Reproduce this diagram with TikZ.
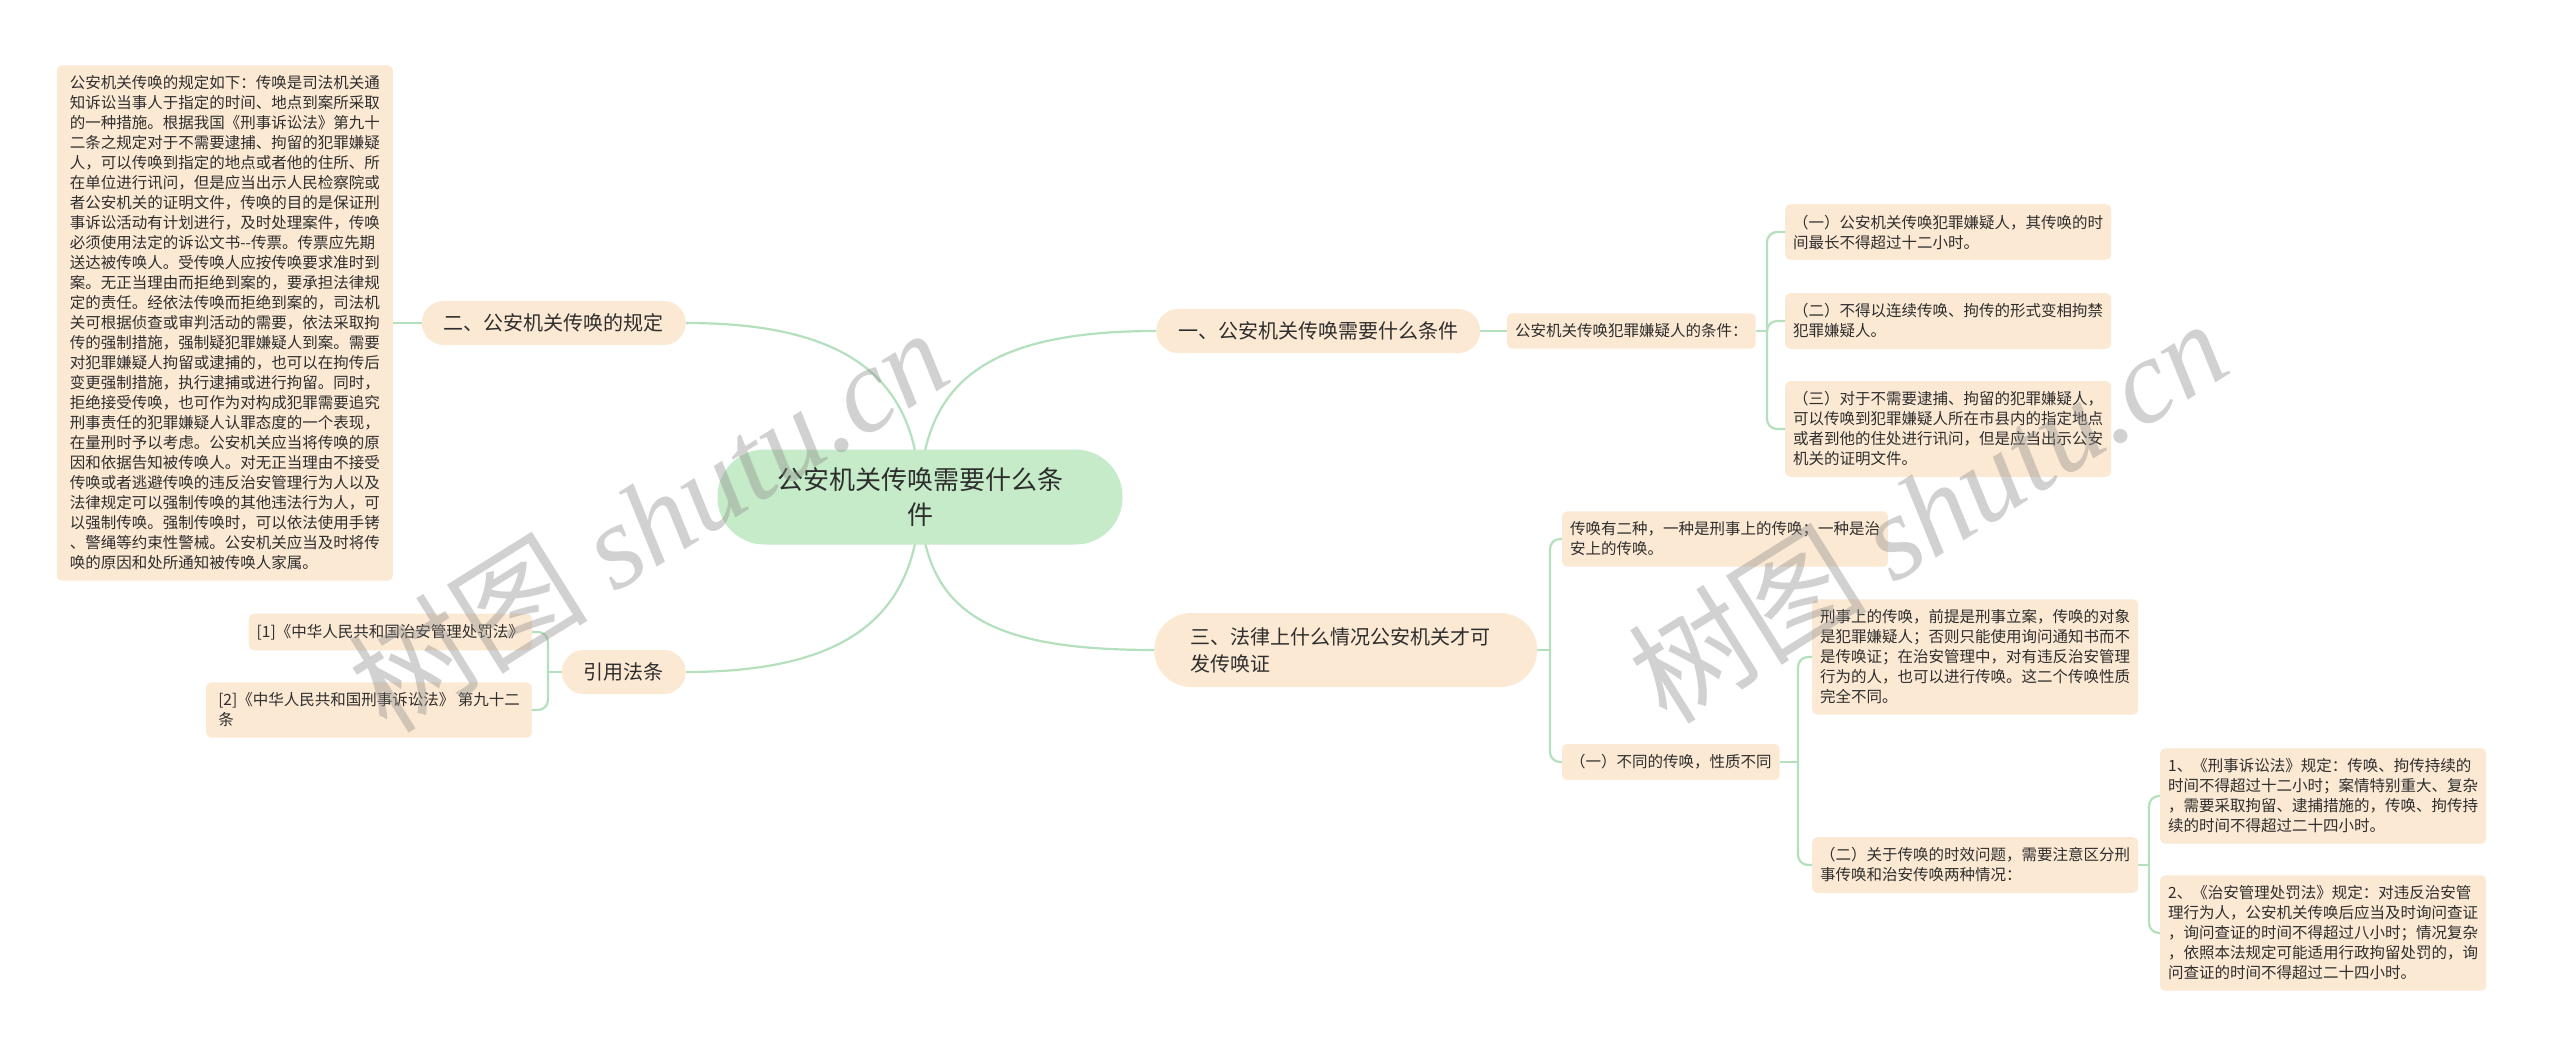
\documentclass[tikz,border=0pt]{standalone}
\usepackage{fontspec}
\setmainfont{Noto Sans CJK SC}
\newfontfamily\wmserif{Liberation Serif}
\usetikzlibrary{backgrounds,calc}
\definecolor{peach}{HTML}{FCE9D3}
\definecolor{rootg}{HTML}{C6EBC8}
\definecolor{linec}{HTML}{B4E0BD}
\definecolor{txt}{HTML}{2E2E2E}
\definecolor{wm}{HTML}{8E8E8E}
\begin{document}
\begin{tikzpicture}[x=1pt,y=-1pt,
  conn/.style={draw=linec, line width=2.2pt},
  leaf/.style={fill=peach, rounded corners=5pt, text=txt, align=left, inner xsep=8pt, inner ysep=10.5pt, font=\fontsize{15.5pt}{20pt}\selectfont},
  topic/.style={fill=peach, rounded corners=22pt, text=txt, inner xsep=22pt, minimum height=44pt, font=\fontsize{20pt}{27pt}\selectfont},
  rootnode/.style={fill=rootg, rounded corners=47pt, text=txt, align=center, minimum width=405pt, minimum height=95pt, font=\fontsize{26pt}{35pt}\selectfont},
  wmark/.style={text=wm, opacity=0.4, rotate=32, font=\fontsize{120pt}{120pt}\selectfont}
]
\useasboundingbox (0,0) rectangle (2560,1059);

% root
\node[rootnode] (root) at (920,497) {公安机关传唤需要什么条\\件};

% right branch 1
\node[topic, anchor=west] (a1) at (1156,331) {一、公安机关传唤需要什么条件};
\node[leaf, anchor=west] (a1c) at (1507,331) {公安机关传唤犯罪嫌疑人的条件：};
\node[leaf, anchor=west] (a1c1) at (1785,232) {（一）公安机关传唤犯罪嫌疑人，其传唤的时\\间最长不得超过十二小时。};
\node[leaf, anchor=west] (a1c2) at (1785,321) {（二）不得以连续传唤、拘传的形式变相拘禁\\犯罪嫌疑人。};
\node[leaf, anchor=west] (a1c3) at (1785,429) {（三）对于不需要逮捕、拘留的犯罪嫌疑人，\\可以传唤到犯罪嫌疑人所在市县内的指定地点\\或者到他的住处进行讯问，但是应当出示公安\\机关的证明文件。};

% right branch 3
\node[topic, anchor=west, align=left, text width=310pt, inner xsep=36.5pt, rounded corners=37pt, minimum height=74pt] (a2) at (1154,650) {三、法律上什么情况公安机关才可\\发传唤证};
\node[leaf, anchor=west] (a2a) at (1562,539) {传唤有二种，一种是刑事上的传唤；一种是治\\安上的传唤。};
\node[leaf, anchor=west] (a2b) at (1562,762) {（一）不同的传唤，性质不同};
\node[leaf, anchor=west] (a2b1) at (1812,657) {刑事上的传唤，前提是刑事立案，传唤的对象\\是犯罪嫌疑人；否则只能使用询问通知书而不\\是传唤证；在治安管理中，对有违反治安管理\\行为的人，也可以进行传唤。这二个传唤性质\\完全不同。};
\node[leaf, anchor=west] (a2b2) at (1812,865) {（二）关于传唤的时效问题，需要注意区分刑\\事传唤和治安传唤两种情况：};
\node[leaf, anchor=west] (a2b2a) at (2160,796) {1、《刑事诉讼法》规定：传唤、拘传持续的\\时间不得超过十二小时；案情特别重大、复杂\\，需要采取拘留、逮捕措施的，传唤、拘传持\\续的时间不得超过二十四小时。};
\node[leaf, anchor=west] (a2b2b) at (2160,933) {2、《治安管理处罚法》规定：对违反治安管\\理行为人，公安机关传唤后应当及时询问查证\\，询问查证的时间不得超过八小时；情况复杂\\，依照本法规定可能适用行政拘留处罚的，询\\问查证的时间不得超过二十四小时。};

% left branch 2
\node[topic, anchor=east] (b1) at (686,323) {二、公安机关传唤的规定};
\node[leaf, anchor=east, inner xsep=13pt] (b1a) at (393,323) {公安机关传唤的规定如下：传唤是司法机关通\\知诉讼当事人于指定的时间、地点到案所采取\\的一种措施。根据我国《刑事诉讼法》第九十\\二条之规定对于不需要逮捕、拘留的犯罪嫌疑\\人，可以传唤到指定的地点或者他的住所、所\\在单位进行讯问，但是应当出示人民检察院或\\者公安机关的证明文件，传唤的目的是保证刑\\事诉讼活动有计划进行，及时处理案件，传唤\\必须使用法定的诉讼文书-{}-传票。传票应先期\\送达被传唤人。受传唤人应按传唤要求准时到\\案。无正当理由而拒绝到案的，要承担法律规\\定的责任。经依法传唤而拒绝到案的，司法机\\关可根据侦查或审判活动的需要，依法采取拘\\传的强制措施，强制疑犯罪嫌疑人到案。需要\\对犯罪嫌疑人拘留或逮捕的，也可以在拘传后\\变更强制措施，执行逮捕或进行拘留。同时，\\拒绝接受传唤，也可作为对构成犯罪需要追究\\刑事责任的犯罪嫌疑人认罪态度的一个表现，\\在量刑时予以考虑。公安机关应当将传唤的原\\因和依据告知被传唤人。对无正当理由不接受\\传唤或者逃避传唤的违反治安管理行为人以及\\法律规定可以强制传唤的其他违法行为人，可\\以强制传唤。强制传唤时，可以依法使用手铐\\、警绳等约束性警械。公安机关应当及时将传\\唤的原因和处所通知被传唤人家属。};

% left branch: citations
\node[topic, anchor=east] (b2) at (686,672) {引用法条};
\node[leaf, anchor=east] (b2a) at (532,632) {[1]《中华人民共和国治安管理处罚法》};
\node[leaf, anchor=east, inner xsep=12pt] (b2b) at (532,710) {[2]《中华人民共和国刑事诉讼法》 第九十二\\条};

\begin{scope}[on background layer]
\fill[white] (0,0) rectangle (2560,1059);
% root curves
\draw[conn] (root.center) .. controls (918,380) and (850,323) .. (b1.east);
\draw[conn] (root.center) .. controls (922,380) and (990,331) .. (a1.west);
\draw[conn] (root.center) .. controls (922,614) and (990,650) .. (a2.west);
\draw[conn] (root.center) .. controls (918,614) and (850,672) .. (b2.east);
% straight links
\draw[conn] (a1.east) -- (a1c.west);
\draw[conn] (b1.west) -- (b1a.east);
% bracket a1c
\draw[conn] (a1c.east) -- (1767,331);
\draw[conn, rounded corners=10pt] (1767,331) |- (a1c1.west);
\draw[conn, rounded corners=10pt] (1767,331) |- (a1c2.west);
\draw[conn, rounded corners=10pt] (1767,331) |- (a1c3.west);
% bracket a2
\draw[conn] (a2.east) -- (1550,650);
\draw[conn, rounded corners=10pt] (1550,650) |- (a2a.west);
\draw[conn, rounded corners=10pt] (1550,650) |- (a2b.west);
% bracket a2b
\draw[conn] (a2b.east) -- (1798,762);
\draw[conn, rounded corners=10pt] (1798,762) |- (a2b1.west);
\draw[conn, rounded corners=10pt] (1798,762) |- (a2b2.west);
% bracket a2b2
\draw[conn] (a2b2.east) -- (2149,865);
\draw[conn, rounded corners=10pt] (2149,865) |- (a2b2a.west);
\draw[conn, rounded corners=10pt] (2149,865) |- (a2b2b.west);
% bracket b2
\draw[conn] (b2.west) -- (548,672);
\draw[conn, rounded corners=10pt] (548,672) |- (b2a.east);
\draw[conn, rounded corners=10pt] (548,672) |- (b2b.east);
\end{scope}

% watermarks
\node[wmark] (wm1) at (648,519) {树图 {\wmserif\itshape shutu.cn}};
\node[wmark] (wm2) at (1927,510) {树图 {\wmserif\itshape shutu.cn}};
\end{tikzpicture}
\end{document}
